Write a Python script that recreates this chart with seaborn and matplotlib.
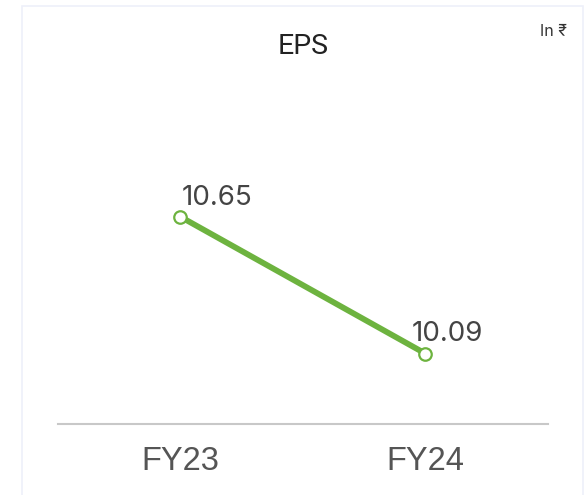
import matplotlib
matplotlib.use("Agg")
import matplotlib.pyplot as plt
import seaborn as sns
import pandas as pd
from matplotlib.patches import Rectangle


years = ["FY23", "FY24"]
eps = [10.65, 10.09]

df = pd.DataFrame({"year": years, "eps": eps})

sns.set_theme(style="white")
plt.rcParams["font.family"] = ["Inter", "DejaVu Sans"]

fig = plt.figure(figsize=(5.85, 4.95), dpi=100)
ax = fig.add_axes([0.0991, 0.1434, 0.8376, 0.70])

# card border
fig.patches.append(Rectangle((22 / 585, -0.05), (583 - 22) / 585, 1 - 6 / 495 + 0.05,
                             transform=fig.transFigure, fill=False,
                             edgecolor="#eef0fa", linewidth=1.2))

green = "#6db33f"
sns.lineplot(data=df, x="year", y="eps", ax=ax, color=green, linewidth=4.2,
             marker="o", markersize=9, markerfacecolor="white",
             markeredgecolor=green, markeredgewidth=1.6, sort=False)

ax.set_xlim(-0.5, 1.5)
ax.set_ylim(9.802, 11.22)

offsets = [(1, 4.5), (-10, 4.5)]
for i, (x, y) in enumerate(zip(years, eps)):
    ax.annotate(f"{y:.2f}", (i, y), xytext=offsets[i], textcoords="offset points",
                ha="left", va="bottom", fontsize=20, color="#444444")

for s in ["top", "left", "right"]:
    ax.spines[s].set_visible(False)
ax.spines["bottom"].set_color("#c8c8c8")
ax.spines["bottom"].set_linewidth(1.5)
ax.set_yticks([])
ax.set_xlabel("")
ax.set_ylabel("")
ax.tick_params(axis="x", length=0, pad=16)
for lbl in ax.get_xticklabels():
    lbl.set_fontsize(23.5)
    lbl.set_color("#555555")
    lbl.set_family(["Liberation Sans", "DejaVu Sans"])

fig.text(303 / 585, 1 - 46 / 495, "EPS", ha="center", va="center",
         fontsize=20.5, color="#222222", family=["Roboto", "DejaVu Sans"])
fig.text(567 / 585, 1 - 32 / 495, "In ₹", ha="right", va="center",
         fontsize=11.5, color="#333333", family=["Inter", "DejaVu Sans", "Noto Sans"])

fig.savefig("out.png", dpi=100)
